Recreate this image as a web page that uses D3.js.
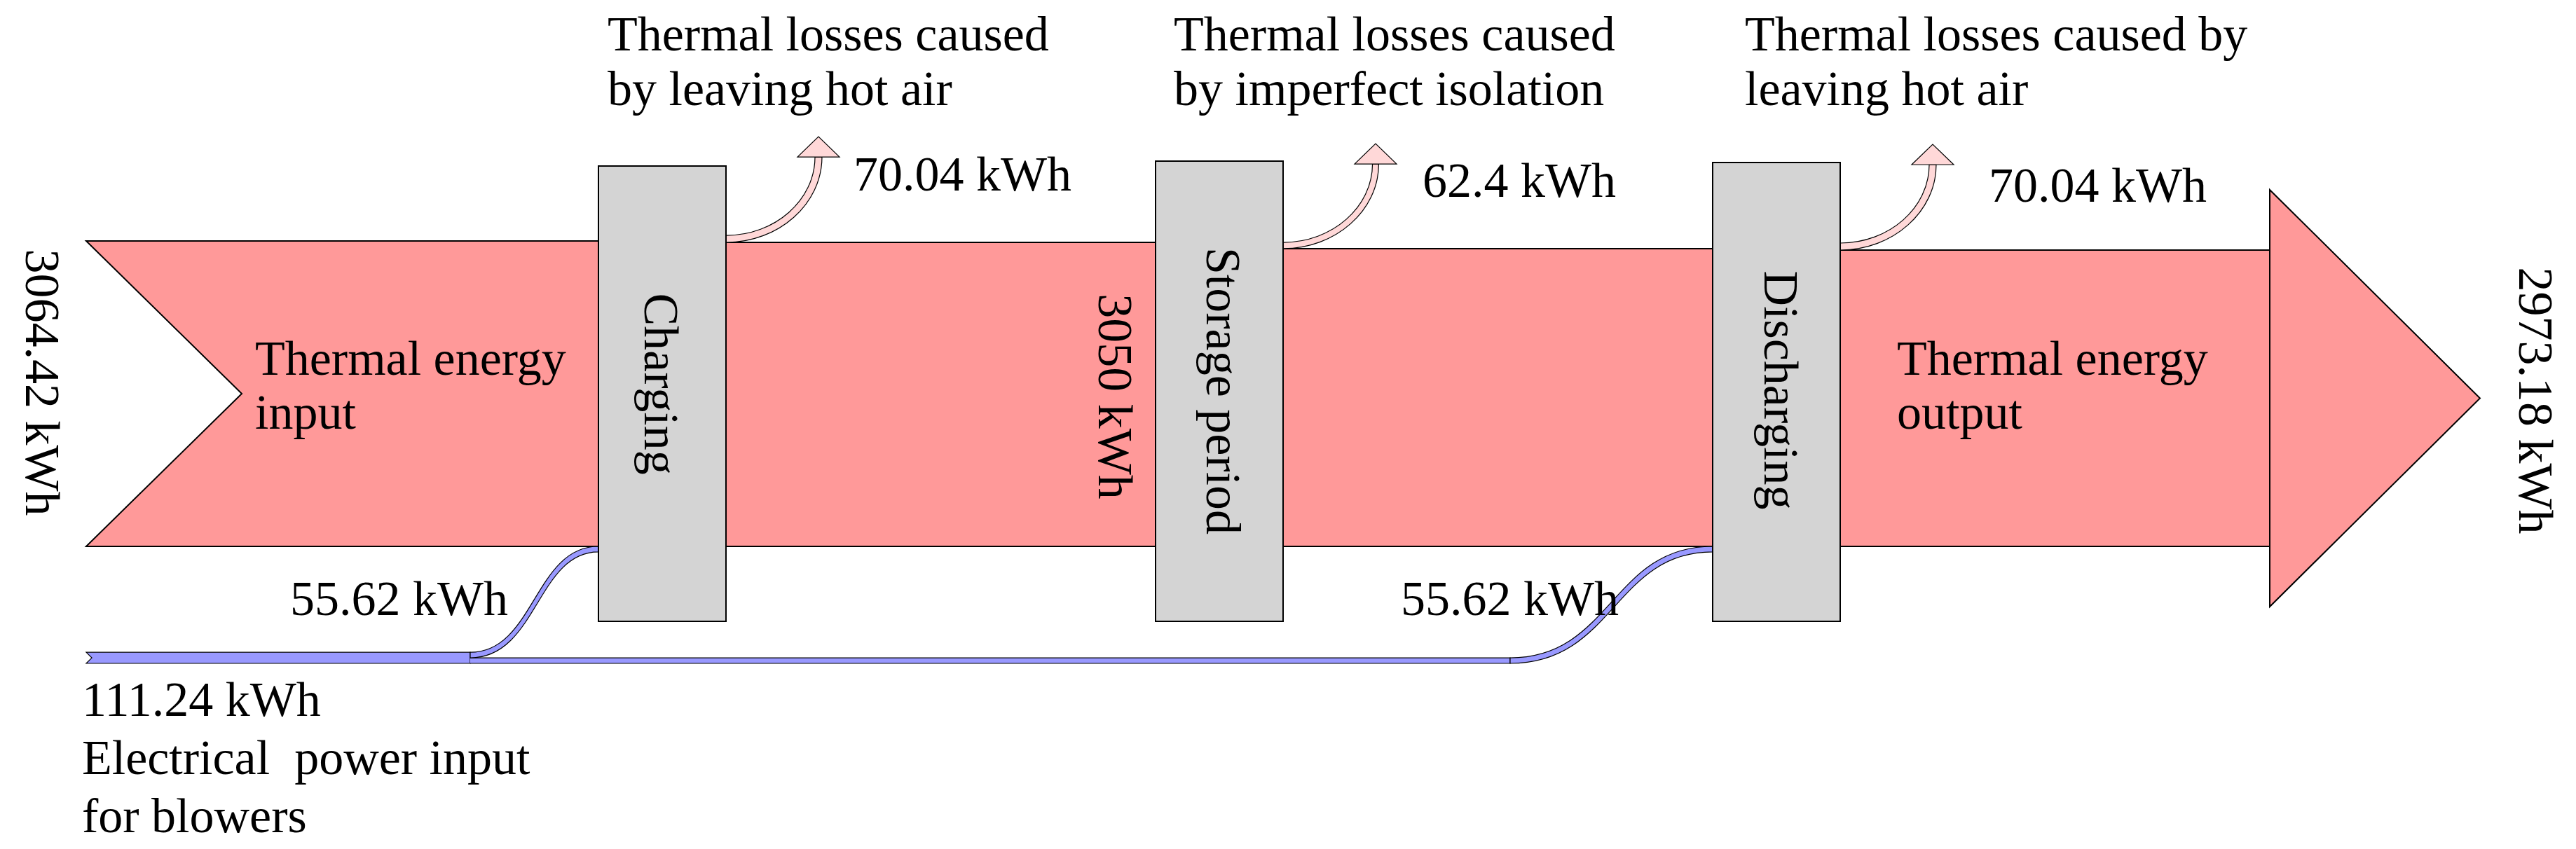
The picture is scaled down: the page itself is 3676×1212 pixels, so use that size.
<!DOCTYPE html>
<html>
<head>
<meta charset="utf-8">
<script src="https://cdn.jsdelivr.net/npm/d3@7/dist/d3.min.js"></script>
<style>
  html, body { margin: 0; padding: 0; background: #ffffff; }
  svg { display: block; }
  text { font-family: "Liberation Serif", "Times New Roman", serif; fill: #000; }
</style>
</head>
<body>
<svg id="chart" width="3676" height="1212"></svg>
<script>
// ---------------- data ----------------
const mainFlows = [3064.42, 3050, 2987.6, 2973.18];          // kWh along the main thermal band
const stages = ["Charging", "Storage period", "Discharging"];
const lossValues = [70.04, 62.4, 70.04];
const lossLabels = ["70.04 kWh", "62.4 kWh", "70.04 kWh"];
const lossTitles = [
  ["Thermal losses caused", "by leaving hot air"],
  ["Thermal losses caused", "by imperfect isolation"],
  ["Thermal losses caused by", "leaving hot air"]
];
const electricTotal = 111.24;
const electricBranches = [55.62, 55.62];
const electricTargets = [0, 2];                               // stage index fed by each branch
const inputLabel = "3064.42 kWh";
const outputLabel = "2973.18 kWh";
const midLabel = "3050 kWh";
const electricLabels = ["111.24 kWh", "Electrical  power input", "for blowers"];
const branchLabels = ["55.62 kWh", "55.62 kWh"];

// ---------------- layout ----------------
const svg = d3.select("#chart");
const w = d3.scaleLinear().domain([0, mainFlows[0]]).range([0, 436]);   // flow thickness
const xStage = d3.scaleLinear().domain([0, stages.length - 1]).range([854, 2444]);
const boxW = 182;
const baseY = 780;            // bottom of main band
const leftX = 123, notchX = 345;
const headX = 3239, headTip = 3539, headHalf = 297.5;
const boxTop = [237, 230, 232], boxBottom = 887;

const MAIN = "#ff9999", LOSS = "#ffd8d8", BOX = "#d4d4d4", ELEC = "#9999ff";
const FS = 70;

const g = svg.append("g");

// main band segments
mainFlows.forEach((v, i) => {
  const x0 = i === 0 ? leftX : xStage(i - 1) + boxW;
  const x1 = i === mainFlows.length - 1 ? headX : xStage(i);
  const yT = baseY - w(v);
  const p = d3.path();
  p.moveTo(x0, yT);
  p.lineTo(x1, yT);
  p.lineTo(x1, baseY);
  p.lineTo(x0, baseY);
  if (i === 0) p.lineTo(notchX, (yT + baseY) / 2);
  p.closePath();
  g.append("path").attr("d", p.toString())
    .attr("fill", MAIN).attr("stroke", "#000").attr("stroke-width", 2);
});

// arrow head at the end
{
  const last = mainFlows[mainFlows.length - 1];
  const cy = baseY - w(last) / 2;
  const p = d3.path();
  p.moveTo(headX, cy - headHalf);
  p.lineTo(headTip, cy);
  p.lineTo(headX, cy + headHalf);
  p.closePath();
  g.append("path").attr("d", p.toString())
    .attr("fill", MAIN).attr("stroke", "#000").attr("stroke-width", 2);
}

// loss arrows
lossValues.forEach((v, i) => {
  const x0 = xStage(i) + boxW;
  const lw = w(v);
  const yBot = baseY - w(mainFlows[i + 1]);
  const y0 = yBot - lw;
  const xv = x0 + 132;
  const yB = y0 - 112;
  const k = 0.55;
  const xo = xv - lw / 2, xi = xv + lw / 2;
  const p = d3.path();
  p.moveTo(x0, y0);
  p.bezierCurveTo(x0 + k * (xo - x0), y0, xo, yB + k * (y0 - yB), xo, yB);
  p.lineTo(xi, yB);
  p.bezierCurveTo(xi, yB + k * (yBot - yB), x0 + k * (xi - x0), yBot, x0, yBot);
  p.closePath();
  g.append("path").attr("d", p.toString())
    .attr("fill", LOSS).attr("stroke", "#000").attr("stroke-width", 1.2);
  const t = d3.path();
  t.moveTo(xv - 30, yB);
  t.lineTo(xv + 30, yB);
  t.lineTo(xv, yB - 29);
  t.closePath();
  g.append("path").attr("d", t.toString())
    .attr("fill", LOSS).attr("stroke", "#000").attr("stroke-width", 1.2);
});

// electrical flows
{
  const eBot = 947;
  const eTop = eBot - w(electricTotal);
  const splitX = 671;
  const curveStart = [splitX, 2155];
  // trunk (total) up to split
  const p = d3.path();
  p.moveTo(leftX, eTop);
  p.lineTo(splitX, eTop);
  p.lineTo(splitX, eBot);
  p.lineTo(leftX, eBot);
  p.lineTo(leftX + 8, (eTop + eBot) / 2);
  p.closePath();
  g.append("path").attr("d", p.toString())
    .attr("fill", ELEC).attr("stroke", "#000").attr("stroke-width", 1.2);
  // lower straight run of the second branch
  const b2w = w(electricBranches[1]);
  const r = d3.path();
  r.moveTo(splitX, eBot - b2w);
  r.lineTo(curveStart[1], eBot - b2w);
  r.lineTo(curveStart[1], eBot);
  r.lineTo(splitX, eBot);
  g.append("path").attr("d", r.toString())
    .attr("fill", ELEC).attr("stroke", "#000").attr("stroke-width", 1.2);
  // curved branches into the boxes
  electricBranches.forEach((v, j) => {
    const bw = w(v);
    const xs = curveStart[j];
    const ysTop = j === 0 ? eTop : eBot - bw;
    const xe = xStage(electricTargets[j]);
    const yeTop = baseY;
    const xm = (xs + xe) / 2;
    const q = d3.path();
    q.moveTo(xs, ysTop);
    q.bezierCurveTo(xm, ysTop, xm, yeTop, xe, yeTop);
    q.lineTo(xe, yeTop + bw);
    q.bezierCurveTo(xm + bw * 0.5, yeTop + bw, xm + bw * 0.5, ysTop + bw, xs, ysTop + bw);
    q.closePath();
    g.append("path").attr("d", q.toString())
      .attr("fill", ELEC).attr("stroke", "#000").attr("stroke-width", 1.2);
  });
}

// stage boxes
stages.forEach((s, i) => {
  g.append("rect")
    .attr("x", xStage(i)).attr("y", boxTop[i])
    .attr("width", boxW).attr("height", boxBottom - boxTop[i])
    .attr("fill", BOX).attr("stroke", "#000").attr("stroke-width", 2);
});

// ---------------- text ----------------
const T = g.append("g").attr("font-size", FS);

const stageTextPos = [[920, 548], [1722, 558], [2518, 557]];
stages.forEach((s, i) => {
  T.append("text").attr("text-anchor", "middle")
    .attr("transform", `translate(${stageTextPos[i][0]},${stageTextPos[i][1]}) rotate(90)`)
    .text(s);
});

T.append("text").attr("text-anchor", "middle")
  .attr("transform", "translate(37,546) rotate(90)").text(inputLabel);
T.append("text").attr("text-anchor", "middle")
  .attr("transform", "translate(3595,572) rotate(90)").text(outputLabel);
T.append("text").attr("text-anchor", "middle")
  .attr("transform", "translate(1568,566) rotate(90)").text(midLabel);

const titleX = [867, 1675, 2490];
lossTitles.forEach((lines, i) => {
  lines.forEach((ln, j) => {
    T.append("text").attr("x", titleX[i]).attr("y", 72 + j * 78).text(ln);
  });
});
const lossLabelPos = [[1218, 272], [2030, 281], [2838, 288]];
lossLabels.forEach((l, i) => {
  T.append("text").attr("x", lossLabelPos[i][0]).attr("y", lossLabelPos[i][1]).text(l);
});

[["Thermal energy", "input", 364], ["Thermal energy", "output", 2707]].forEach(d => {
  T.append("text").attr("x", d[2]).attr("y", 535).text(d[0]);
  T.append("text").attr("x", d[2]).attr("y", 612).text(d[1]);
});

const branchLabelEnd = [725, 2310];
branchLabels.forEach((l, i) => {
  T.append("text").attr("text-anchor", "end")
    .attr("x", branchLabelEnd[i]).attr("y", 878).text(l);
});

electricLabels.forEach((l, j) => {
  T.append("text").attr("x", 117).attr("y", 1022 + j * 83)
    .style("white-space", "pre").attr("xml:space", "preserve").text(l);
});
</script>
</body>
</html>
